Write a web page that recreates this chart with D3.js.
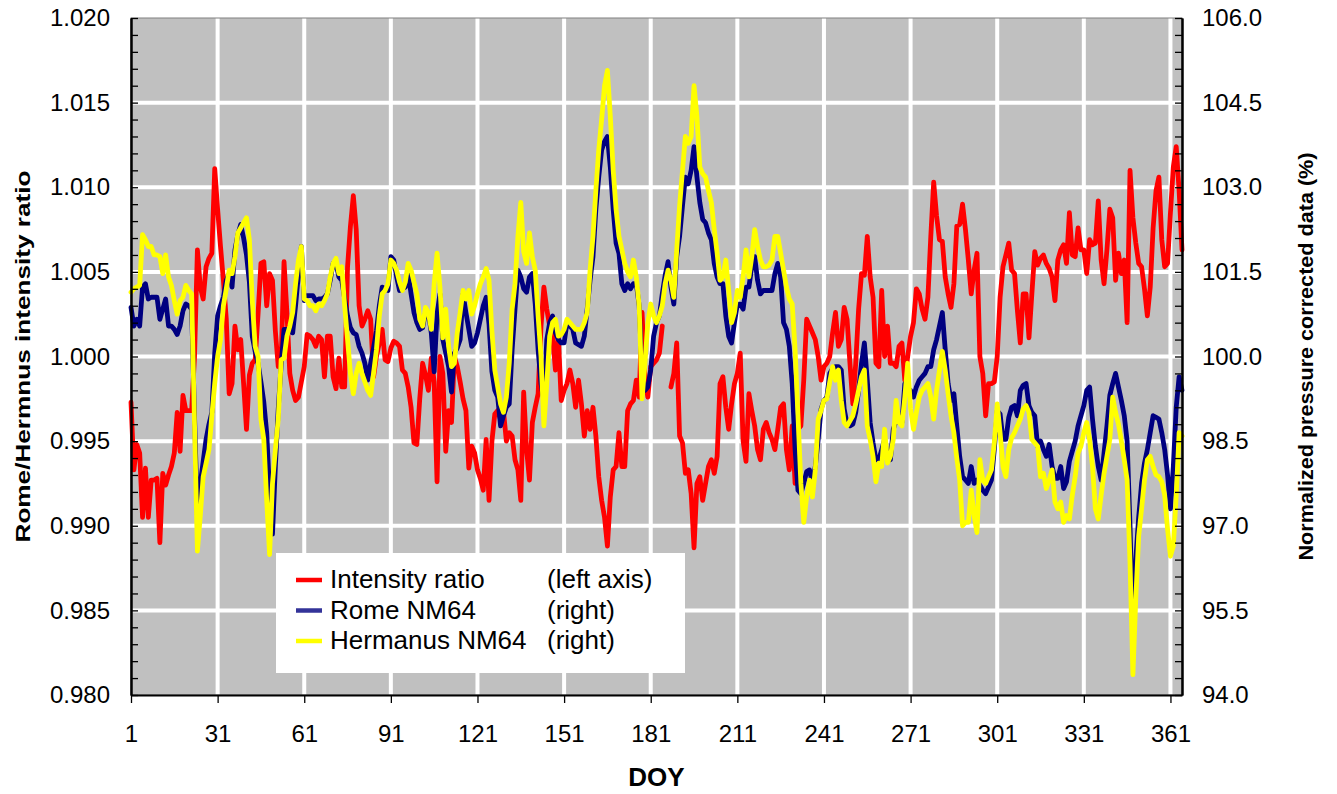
<!DOCTYPE html>
<html>
<head>
<meta charset="utf-8">
<style>
body { margin: 0; background: #fff; }
svg text { font-family: "Liberation Sans", Arial, sans-serif; fill: #000; }
</style>
</head>
<body>
<div id="chart"></div>
<script src="https://d3js.org/d3.v7.min.js"></script>
<script>
// day of year, one point per day
var days = d3.range(1, 366);

// Rome / Hermanus intensity ratio (left axis), null = no data
var ratio = [
  0.9973, 0.9933, 0.9948, 0.9943, 0.9905, 0.9934, 0.9905, 0.9927, 0.9927, 0.9928,
  0.9890, 0.9931, 0.9924, 0.9930, 0.9935, 0.9943, 0.9967, 0.9944, 0.9977, 0.9968,
  0.9968, 0.9968, 1.0000, 1.0063, 1.0041, 1.0034, 1.0053, 1.0058, 1.0061, 1.0111,
  1.0087, 1.0065, 1.0045, 1.0022, 0.9978, 0.9984, 1.0018, 1.0004, 1.0010, 0.9984,
  0.9957, 0.9989, 0.9996, 0.9998, 1.0025, 1.0055, 1.0056, 1.0030, 1.0049, 1.0045,
  1.0015, 0.9994, 0.9998, 1.0056, 1.0026, 0.9990, 0.9980, 0.9974, 0.9976, 0.9985,
  0.9994, 1.0013, 1.0012, 1.0010, 1.0006, 1.0012, 1.0010, 0.9988, 1.0012, 1.0012,
  0.9988, 0.9981, 0.9999, 0.9982, 0.9982, 1.0053, 1.0077, 1.0095, 1.0075, 1.0030,
  1.0018, 1.0022, 1.0027, 1.0022, 0.9988, 1.0000, 1.0008, 1.0016, 0.9998, 0.9997,
  1.0005, 1.0009, 1.0008, 1.0006, 0.9992, 0.9990, 0.9982, 0.9970, 0.9949, 0.9948,
  0.9975, 0.9996, 0.9989, 0.9980, 0.9999, 0.9985, 0.9926, 1.0000, 0.9990, 0.9944,
  0.9968, 0.9961, 1.0000, 0.9994, 0.9985, 0.9975, 0.9968, 0.9934, 0.9947, 0.9943,
  0.9933, 0.9928, 0.9921, 0.9951, 0.9915, 0.9950, 0.9966, 0.9968, 0.9963, 0.9968,
  0.9950, 0.9955, 0.9953, 0.9939, 0.9933, 0.9915, 0.9979, 0.9945, 0.9927, 0.9961,
  0.9970, 0.9978, 1.0018, 1.0041, 1.0028, 1.0018, 1.0012, 0.9992, 1.0012, 0.9974,
  0.9980, 0.9984, 0.9992, 0.9984, 0.9970, 0.9986, 0.9972, 0.9953, 0.9968, 0.9957,
  0.9970, 0.9953, 0.9929, 0.9915, 0.9905, 0.9888, 0.9917, 0.9933, 0.9935, 0.9955,
  0.9935, 0.9935, 0.9968, 0.9972, 0.9974, 0.9986, 0.9976, 1.0026, 0.9986, 0.9976,
  0.9994, 0.9996, 0.9998, 1.0002, 1.0018, null,   null,   0.9982, 0.9990, 1.0008,
  0.9953, 0.9949, 0.9931, 0.9933, 0.9919, 0.9887, 0.9925, 0.9929, 0.9915, 0.9925,
  0.9935, 0.9939, 0.9931, 0.9941, 0.9984, 0.9988, 0.9970, 0.9957, 0.9972, 0.9984,
  0.9990, 1.0002, 0.9950, 0.9938, 0.9978, 0.9968, 0.9959, 0.9945, 0.9939, 0.9957,
  0.9961, 0.9955, 0.9951, 0.9945, 0.9957, 0.9970, 0.9972, 0.9945, 0.9933, 0.9959,
  0.9925, 0.9957, 0.9959, 0.9986, 1.0022, 1.0018, 1.0014, 1.0010, 1.0000, 0.9986,
  0.9994, 0.9996, 1.0000, 1.0014, 1.0026, 1.0006, 1.0010, 1.0029, 1.0022, 0.9996,
  0.9972, 0.9996, 1.0028, 1.0049, 1.0048, 1.0071, 1.0047, 1.0035, 0.9996, 0.9994,
  1.0039, 1.0000, 1.0018, 0.9996, 0.9996, 0.9994, 1.0006, 1.0008, 0.9986, 1.0000,
  1.0012, 1.0020, 1.0040, 1.0037, 1.0028, 1.0022, 1.0035, 1.0071, 1.0103, 1.0083,
  1.0069, 1.0068, 1.0047, 1.0037, 1.0029, 1.0043, 1.0077, 1.0078, 1.0090, 1.0075,
  1.0057, 1.0037, 1.0051, 1.0061, 1.0000, 0.9990, 0.9965, 0.9984, 0.9984, 0.9985,
  1.0000, 1.0035, 1.0053, 1.0060, 1.0067, 1.0051, 1.0049, 1.0027, 1.0008, 1.0037,
  1.0037, 1.0011, 1.0037, 1.0062, 1.0054, 1.0058, 1.0060, 1.0055, 1.0052, 1.0047,
  1.0033, 1.0057, 1.0063, 1.0066, 1.0055, 1.0085, 1.0060, 1.0059, 1.0076, 1.0063,
  1.0063, 1.0049, 1.0069, 1.0066, 1.0067, 1.0092, 1.0057, 1.0043, 1.0063, 1.0087,
  1.0082, 1.0045, 1.0061, 1.0049, 1.0057, 1.0020, 1.0110, 1.0082, 1.0067, 1.0055,
  1.0053, 1.0040, 1.0024, 1.0041, 1.0076, 1.0098, 1.0106, 1.0069, 1.0053, 1.0055,
  1.0085, 1.0112, 1.0124, 1.0098, 1.0063
];

// Rome NM64, normalized pressure corrected (%), right axis
var rome = [
  100.87, 100.54, 100.66, 100.54, 101.23, 101.29, 101.02, 101.05, 101.05, 101.05,
  100.66, 100.84, 101.02, 100.54, 100.54, 100.48, 100.39, 100.54, 100.81, 100.93,
  100.90, 100.84, 98.95, 97.18, 97.75, 98.14, 98.53, 98.80, 99.01, 100.06,
  100.72, 100.90, 101.05, 101.35, 101.47, 101.23, 101.89, 102.16, 102.34, 102.10,
  101.80, 101.32, 100.36, 100.09, 99.88, 99.55, 99.19, 98.65, 97.60, 96.85,
  98.05, 99.07, 99.85, 100.48, 100.48, 100.45, 100.42, 100.90, 101.47, 101.95,
  100.99, 101.08, 101.08, 101.08, 100.99, 101.02, 101.02, 101.05, 101.11, 101.35,
  101.65, 101.65, 101.41, 101.35, 101.02, 100.72, 100.51, 100.42, 100.39, 100.18,
  100.06, 99.88, 99.58, 99.88, 100.15, 100.45, 100.90, 101.23, 101.20, 101.17,
  101.77, 101.71, 101.41, 101.17, 101.20, 101.23, 101.47, 101.11, 100.78, 100.60,
  100.48, 100.51, 100.78, 100.78, 100.42, 99.73, 100.75, 101.11, 100.30, 100.06,
  99.82, 99.37, 100.06, 100.15, 100.30, 101.11, 100.78, 100.48, 100.18, 100.24,
  100.42, 100.66, 100.90, 101.05, 100.57, 99.73, 99.40, 99.28, 98.77, 98.95,
  99.10, 99.16, 100.12, 100.84, 101.53, 101.41, 101.20, 101.14, 101.41, 101.47,
  100.93, 100.12, 99.52, 99.22, 100.30, 100.60, 100.72, 100.42, 100.30, 100.24,
  100.24, 100.60, 100.54, 100.48, 100.24, 100.21, 100.18, 100.36, 100.84, 101.35,
  101.77, 102.61, 103.18, 103.66, 103.81, 103.90, 103.36, 102.61, 102.01, 101.83,
  101.29, 101.17, 101.29, 101.20, 101.29, 101.29, 100.90, 99.70, 99.40, 99.46,
  99.76, 100.36, 100.60, 100.72, 101.11, 101.44, 101.68, 101.23, 100.93, 101.77,
  102.13, 102.67, 103.18, 103.06, 103.30, 103.72, 103.18, 102.73, 102.43, 102.37,
  102.19, 102.07, 101.65, 101.41, 101.29, 101.29, 100.72, 100.36, 100.24, 100.60,
  100.93, 100.93, 100.84, 101.23, 101.23, 101.59, 101.77, 101.35, 101.11, 101.17,
  101.17, 101.17, 101.17, 101.47, 101.65, 101.41, 100.60, 100.48, 100.18, 99.52,
  98.35, 97.63, 97.57, 97.75, 97.96, 97.99, 97.75, 98.05, 98.53, 99.07,
  99.22, 99.28, 99.70, 99.79, 99.82, 99.82, 99.76, 99.07, 98.80, 98.77,
  98.80, 99.01, 99.40, 99.88, 100.24, 99.58, 98.83, 98.47, 98.17, 98.17,
  98.35, 98.53, 98.23, 98.17, 98.71, 98.86, 98.95, 98.83, 99.52, 99.43,
  99.40, 99.28, 99.46, 99.58, 99.64, 99.70, 99.82, 99.82, 100.12, 100.30,
  100.54, 100.78, 100.12, 99.52, 99.22, 99.34, 98.77, 98.23, 97.87, 97.81,
  97.75, 98.05, 97.75, 97.81, 97.72, 97.63, 97.57, 97.69, 97.81, 98.35,
  99.04, 98.98, 98.53, 98.53, 98.92, 99.10, 99.13, 98.95, 99.40, 99.49,
  99.52, 99.13, 99.01, 98.95, 98.41, 98.50, 98.35, 98.23, 98.44, 98.05,
  97.84, 97.84, 98.05, 97.66, 97.78, 98.14, 98.32, 98.50, 98.77, 98.95,
  99.13, 99.40, 99.46, 98.89, 98.41, 98.05, 97.81, 98.29, 98.77, 99.31,
  99.52, 99.70, 99.46, 99.22, 98.95, 98.50, 97.00, 95.05, 96.40, 97.15,
  97.75, 98.11, 98.35, 98.65, 98.95, 98.92, 98.89, 98.65, 98.35, 97.90,
  97.30, 98.05, 99.10, 99.64, 99.40
];

// Hermanus NM64, normalized pressure corrected (%), right axis
var hermanus = [
  101.14, 101.20, 101.23, 101.26, 102.16, 102.07, 101.95, 101.95, 101.80, 101.80,
  101.77, 101.47, 101.80, 101.41, 101.26, 100.99, 100.75, 100.99, 101.05, 101.26,
  101.17, 101.11, 98.80, 96.55, 97.18, 97.87, 98.11, 98.35, 98.95, 99.52,
  100.00, 100.30, 100.90, 101.20, 101.53, 101.47, 101.77, 102.19, 102.28, 102.37,
  102.46, 102.07, 100.99, 100.18, 100.00, 98.89, 98.53, 97.45, 96.49, 97.75,
  98.35, 98.89, 99.94, 99.97, 100.36, 100.54, 100.78, 101.29, 101.71, 101.95,
  101.02, 100.99, 100.90, 100.90, 100.81, 100.93, 100.90, 100.99, 101.11, 101.41,
  101.65, 101.74, 101.47, 101.59, 100.90, 100.30, 99.70, 99.34, 99.70, 99.88,
  99.70, 99.55, 99.40, 99.31, 99.70, 100.12, 100.72, 101.11, 101.17, 101.29,
  101.71, 101.65, 101.53, 101.32, 101.17, 101.32, 101.65, 101.53, 101.32, 101.11,
  100.66, 100.54, 100.87, 100.78, 100.48, 101.29, 101.83, 101.23, 100.33, 100.84,
  100.18, 99.82, 99.88, 100.42, 100.78, 101.17, 101.02, 101.17, 100.75, 100.90,
  101.11, 101.29, 101.41, 101.56, 101.35, 100.45, 99.76, 99.46, 99.16, 99.01,
  99.28, 99.88, 100.84, 101.29, 102.13, 102.73, 101.86, 101.65, 102.19, 101.77,
  101.53, 100.72, 100.00, 98.77, 99.52, 100.36, 100.60, 100.66, 100.36, 100.39,
  100.48, 100.66, 100.60, 100.54, 100.48, 100.48, 100.48, 100.60, 100.78, 101.53,
  102.13, 102.94, 103.66, 104.20, 104.80, 105.07, 104.26, 103.30, 102.61, 102.13,
  101.89, 101.65, 101.50, 101.41, 101.71, 101.41, 100.90, 99.25, 99.88, 100.60,
  100.93, 100.72, 100.60, 100.72, 100.90, 101.29, 101.53, 101.35, 101.05, 101.89,
  102.67, 103.30, 103.90, 103.78, 103.90, 104.80, 104.26, 103.36, 103.24, 103.18,
  102.94, 102.73, 102.25, 101.83, 101.35, 101.41, 101.71, 101.17, 100.60, 100.78,
  101.17, 101.05, 101.41, 101.89, 101.41, 101.77, 102.25, 101.95, 101.71, 101.59,
  101.59, 101.62, 101.71, 102.13, 102.13, 101.83, 101.53, 101.23, 101.02, 100.93,
  100.12, 98.95, 97.75, 97.06, 97.51, 97.81, 97.51, 97.99, 98.89, 99.04,
  99.22, 99.25, 99.55, 99.82, 99.58, 99.76, 99.22, 98.83, 98.77, 98.86,
  98.95, 99.16, 99.40, 99.64, 99.76, 98.77, 98.53, 98.23, 97.78, 98.11,
  98.05, 98.71, 98.11, 98.23, 98.53, 99.22, 98.83, 98.77, 99.28, 99.88,
  99.07, 98.71, 99.01, 99.28, 99.40, 99.46, 99.52, 99.28, 98.89, 99.40,
  99.76, 100.09, 99.76, 99.34, 98.95, 98.65, 98.20, 97.81, 97.00, 97.06,
  97.06, 97.63, 97.18, 96.88, 98.17, 97.81, 97.75, 97.87, 97.99, 98.47,
  99.16, 98.65, 98.05, 97.87, 98.35, 98.56, 98.65, 98.77, 98.89, 99.07,
  99.13, 99.01, 98.53, 98.47, 98.41, 97.87, 97.93, 97.66, 97.81, 97.99,
  97.42, 97.30, 97.42, 97.06, 97.18, 97.12, 97.54, 97.87, 98.29, 98.41,
  98.65, 98.83, 98.53, 98.05, 97.30, 97.12, 97.54, 97.93, 98.23, 98.53,
  99.28, 99.01, 98.80, 98.50, 98.17, 97.81, 96.34, 94.36, 95.71, 96.82,
  97.30, 97.81, 98.17, 98.23, 98.05, 97.90, 97.87, 97.78, 97.54, 96.94,
  96.46, 96.64, 97.54, 98.65, 98.59
];

var xTicks = [1, 31, 61, 91, 121, 151, 181, 211, 241, 271, 301, 331, 361];
var leftTicks = [0.980, 0.985, 0.990, 0.995, 1.000, 1.005, 1.010, 1.015, 1.020];
var rightTicks = [94.0, 95.5, 97.0, 98.5, 100.0, 101.5, 103.0, 104.5, 106.0];
var legendNames = ["Intensity ratio", "Rome NM64", "Hermanus NM64"];
var legendNotes = ["(left axis)", "(right)", "(right)"];

var W = 1337, H = 794;
var margin = {top: 18, right: 155, bottom: 99, left: 131};
var width = W - margin.left - margin.right;
var height = H - margin.top - margin.bottom;

var svg = d3.select("#chart").append("svg")
    .attr("width", W)
    .attr("height", H);

var g = svg.append("g").attr("transform", "translate(" + margin.left + "," + margin.top + ")");

var x = d3.scaleLinear().domain([1, 365]).range([0, width]);
var yL = d3.scaleLinear().domain([0.980, 1.020]).range([height, 0]);
var yR = d3.scaleLinear().domain([94, 106]).range([height, 0]);

// plot area
g.append("rect")
    .attr("width", width)
    .attr("height", height)
    .attr("fill", "#c0c0c0");

// white grid
g.append("g").selectAll("line")
    .data(xTicks.slice(1))
    .enter().append("line")
      .attr("x1", function(d) { return x(d); })
      .attr("x2", function(d) { return x(d); })
      .attr("y1", 0).attr("y2", height)
      .attr("stroke", "#fff").attr("stroke-width", 4);

g.append("g").selectAll("line")
    .data(leftTicks.slice(1, -1))
    .enter().append("line")
      .attr("x1", 0).attr("x2", width)
      .attr("y1", function(d) { return yL(d); })
      .attr("y2", function(d) { return yL(d); })
      .attr("stroke", "#fff").attr("stroke-width", 4);

g.append("rect")
    .attr("width", width)
    .attr("height", height)
    .attr("fill", "none")
    .attr("stroke", "#808080")
    .attr("stroke-width", 1);

// series
function drawLine(values, y, color) {
  var pts = days.map(function(d, i) { return [d, values[i]]; });
  var line = d3.line()
      .defined(function(d) { return d[1] != null; })
      .x(function(d) { return x(d[0]); })
      .y(function(d) { return y(d[1]); });
  g.append("path")
      .datum(pts)
      .attr("d", line)
      .attr("fill", "none")
      .attr("stroke", color)
      .attr("stroke-width", 4.8)
      .attr("stroke-linejoin", "round")
      .attr("stroke-linecap", "round");
}
drawLine(ratio, yL, "#ff0000");
drawLine(rome, yR, "#000080");
drawLine(hermanus, yR, "#ffff00");

// axes
var fnt = "'Liberation Sans', Arial, sans-serif";
function styleAxis(sel) {
  sel.attr("font-family", fnt).attr("font-size", 24);
  sel.select(".domain").attr("stroke", "#000").attr("stroke-width", 2);
  sel.selectAll(".tick line").attr("stroke", "#000").attr("stroke-width", 1.3);
  sel.selectAll(".tick text").attr("fill", "#000");
}

var leftMinor = d3.range(0, 41).map(function(i) { return 0.980 + i * 0.001; });
var rightMinor = d3.range(0, 41).map(function(i) { return 94 + i * 0.3; });

g.append("g")
    .call(d3.axisLeft(yL).tickValues(leftMinor).tickSize(-7).tickSizeOuter(0).tickFormat(""))
    .call(styleAxis);
g.append("g")
    .call(d3.axisLeft(yL).tickValues(leftTicks).tickSize(0).tickSizeOuter(0).tickPadding(21)
      .tickFormat(d3.format(".3f")))
    .call(styleAxis);

g.append("g")
    .attr("transform", "translate(" + width + ",0)")
    .call(d3.axisRight(yR).tickValues(rightMinor).tickSize(-7).tickSizeOuter(0).tickFormat(""))
    .call(styleAxis);
g.append("g")
    .attr("transform", "translate(" + width + ",0)")
    .call(d3.axisRight(yR).tickValues(rightTicks).tickSize(0).tickSizeOuter(0).tickPadding(20)
      .tickFormat(d3.format(".1f")))
    .call(styleAxis);

g.append("g")
    .attr("transform", "translate(0," + height + ")")
    .call(d3.axisBottom(x).tickValues(xTicks).tickSize(8).tickSizeOuter(0).tickPadding(22))
    .call(styleAxis);

// axis titles
svg.append("text")
    .attr("transform", "translate(30," + (margin.top + height / 2) + ") rotate(-90)")
    .attr("text-anchor", "middle")
    .attr("font-weight", "bold")
    .attr("font-size", 21)
    .attr("textLength", 372)
    .attr("lengthAdjust", "spacingAndGlyphs")
    .text("Rome/Hermnus intensity ratio");

svg.append("text")
    .attr("transform", "translate(1313," + (margin.top + height / 2) + ") rotate(-90)")
    .attr("text-anchor", "middle")
    .attr("font-weight", "bold")
    .attr("font-size", 20)
    .attr("textLength", 408)
    .attr("lengthAdjust", "spacingAndGlyphs")
    .text("Normalized pressure corrected data (%)");

svg.append("text")
    .attr("x", margin.left + width / 2)
    .attr("y", 786)
    .attr("text-anchor", "middle")
    .attr("font-weight", "bold")
    .attr("font-size", 26)
    .text("DOY");

// legend
var legendColors = ["#ff0000", "#333399", "#ffff00"];
var lg = svg.append("g");
lg.append("rect")
    .attr("x", 276).attr("y", 553)
    .attr("width", 409).attr("height", 120)
    .attr("fill", "#fff");

var items = lg.selectAll("g.item")
    .data(legendNames)
    .enter().append("g")
      .attr("class", "item")
      .attr("transform", function(d, i) { return "translate(0," + (580 + i * 30.5) + ")"; });

items.append("line")
    .attr("x1", 296).attr("x2", 322)
    .attr("stroke", function(d, i) { return legendColors[i]; })
    .attr("stroke-width", 4.5);

items.append("text")
    .attr("x", 330).attr("y", 8)
    .attr("font-size", 26)
    .text(function(d) { return d; });

items.append("text")
    .attr("x", 547).attr("y", 8)
    .attr("font-size", 26)
    .text(function(d, i) { return legendNotes[i]; });
</script>
</body>
</html>
